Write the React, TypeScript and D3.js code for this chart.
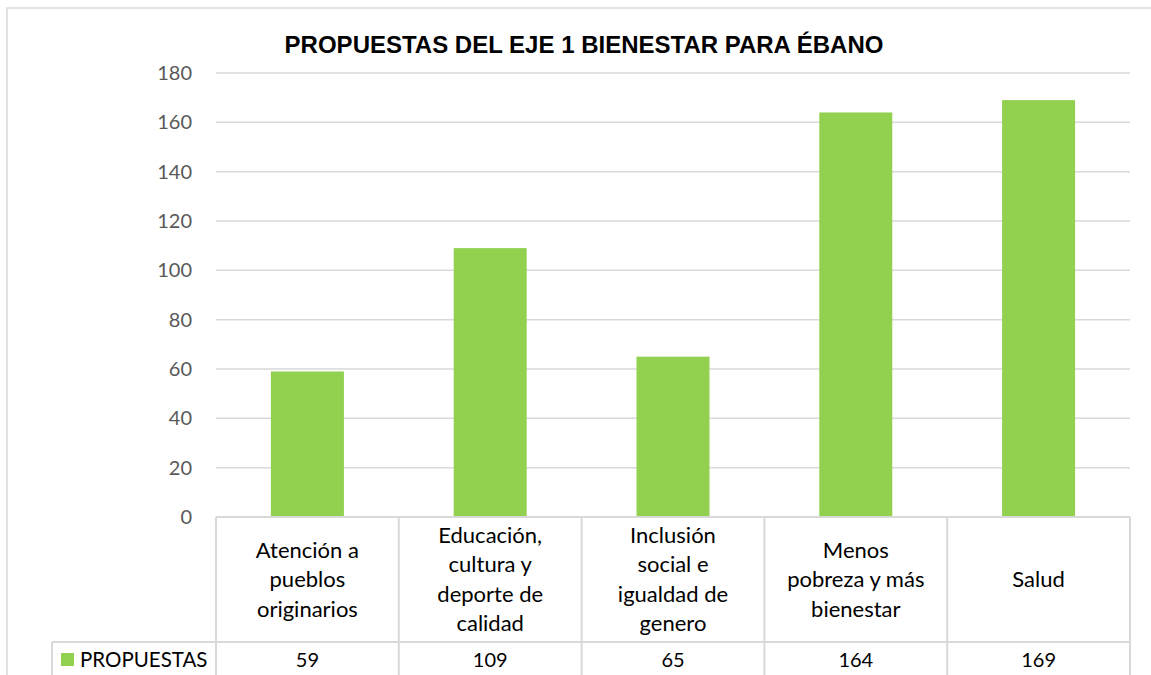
import { useEffect, useRef } from "react";
import * as d3 from "d3";

const categories: string[][] = [
  ["Atención a", "pueblos", "originarios"],
  ["Educación,", "cultura y", "deporte de", "calidad"],
  ["Inclusión", "social e", "igualdad de", "genero"],
  ["Menos", "pobreza y más", "bienestar"],
  ["Salud"],
];
const values: number[] = [59, 109, 65, 164, 169];
const yTicks: number[] = [0, 20, 40, 60, 80, 100, 120, 140, 160, 180];
const seriesName = "PROPUESTAS";
const title = "PROPUESTAS DEL EJE 1 BIENESTAR PARA ÉBANO";

const W = 1151;
const H = 675;
const GREEN = "#92D050";
const GRID = "#D9D9D9";
const FONT = "Lato, 'Open Sans', sans-serif";

export default function App() {
  const svgRef = useRef<SVGSVGElement>(null);

  useEffect(() => {
    if (!svgRef.current) return;
    const svg = d3.select(svgRef.current);
    svg.selectAll("*").remove();

    const plot = { left: 216, right: 1130, top: 73, bottom: 517 };
    const tableMid = 642;
    const tableBottom = 690;
    const legendLeft = 52;

    const x = d3
      .scaleBand<number>()
      .domain(d3.range(values.length))
      .range([plot.left, plot.right])
      .paddingInner(0)
      .paddingOuter(0);
    const y = d3.scaleLinear().domain([0, 180]).range([plot.bottom, plot.top]);

    // outer frame
    svg
      .append("rect")
      .attr("x", 7)
      .attr("y", 8)
      .attr("width", W)
      .attr("height", H)
      .attr("fill", "#fff")
      .attr("stroke", GRID)
      .attr("stroke-width", 1.5);

    svg
      .append("text")
      .attr("x", 584)
      .attr("y", 53)
      .attr("text-anchor", "middle")
      .attr("font-family", "Arial, 'Liberation Sans', sans-serif")
      .attr("font-weight", "bold")
      .attr("font-size", 24)
      .attr("fill", "#000")
      .text(title);

    // gridlines
    svg
      .append("g")
      .selectAll("line")
      .data(yTicks.filter((d) => d > 0))
      .join("line")
      .attr("x1", plot.left)
      .attr("x2", plot.right)
      .attr("y1", (d) => y(d))
      .attr("y2", (d) => y(d))
      .attr("stroke", GRID)
      .attr("stroke-width", 1.5);

    // y tick labels
    svg
      .append("g")
      .selectAll("text")
      .data(yTicks)
      .join("text")
      .attr("x", 192)
      .attr("y", (d) => y(d))
      .attr("dy", "0.35em")
      .attr("text-anchor", "end")
      .attr("font-family", FONT)
      .attr("font-size", 20)
      .attr("fill", "#595959")
      .text((d) => d);

    // bars
    const barW = 73;
    svg
      .append("g")
      .selectAll("rect")
      .data(values)
      .join("rect")
      .attr("x", (_, i) => x(i)! + x.bandwidth() / 2 - barW / 2)
      .attr("y", (d) => y(d))
      .attr("width", barW)
      .attr("height", (d) => y(0) - y(d))
      .attr("fill", GREEN);

    // data table
    const tbl = svg.append("g").attr("stroke", GRID).attr("stroke-width", 2).attr("fill", "none");
    tbl.append("line").attr("x1", plot.left).attr("x2", plot.right).attr("y1", plot.bottom).attr("y2", plot.bottom);
    tbl.append("line").attr("x1", legendLeft).attr("x2", plot.right).attr("y1", tableMid).attr("y2", tableMid);
    tbl.append("line").attr("x1", legendLeft).attr("x2", legendLeft).attr("y1", tableMid).attr("y2", tableBottom);
    d3.range(values.length + 1).forEach((i) => {
      const xx = i < values.length ? x(i)! : plot.right;
      tbl.append("line").attr("x1", xx).attr("x2", xx).attr("y1", plot.bottom).attr("y2", tableBottom);
    });

    // category labels
    const lineH = 29.5;
    const catMid = (plot.bottom + tableMid) / 2;
    categories.forEach((lines, i) => {
      const cx = x(i)! + x.bandwidth() / 2;
      const t = svg
        .append("text")
        .attr("text-anchor", "middle")
        .attr("font-family", FONT)
        .attr("font-size", 22)
        .attr("fill", "#000");
      lines.forEach((ln, j) => {
        t.append("tspan")
          .attr("x", cx)
          .attr("y", catMid + (j - (lines.length - 1) / 2) * lineH)
          .attr("dy", "0.35em")
          .text(ln);
      });
    });

    // values row
    const rowMid = 660;
    svg
      .append("g")
      .selectAll("text")
      .data(values)
      .join("text")
      .attr("x", (_, i) => x(i)! + x.bandwidth() / 2)
      .attr("y", rowMid)
      .attr("dy", "0.35em")
      .attr("text-anchor", "middle")
      .attr("font-family", FONT)
      .attr("font-size", 20)
      .attr("fill", "#000")
      .text((d) => d);

    // legend key
    svg
      .append("rect")
      .attr("x", 61)
      .attr("y", rowMid - 7)
      .attr("width", 13)
      .attr("height", 13)
      .attr("fill", GREEN);
    svg
      .append("text")
      .attr("x", 80)
      .attr("y", rowMid)
      .attr("dy", "0.35em")
      .attr("font-family", FONT)
      .attr("font-size", 20.5)
      .attr("fill", "#000")
      .text(seriesName);
  }, []);

  return (
    <svg
      ref={svgRef}
      width={W}
      height={H}
      style={{ position: "absolute", left: 0, top: 0, background: "#fff" }}
    />
  );
}
